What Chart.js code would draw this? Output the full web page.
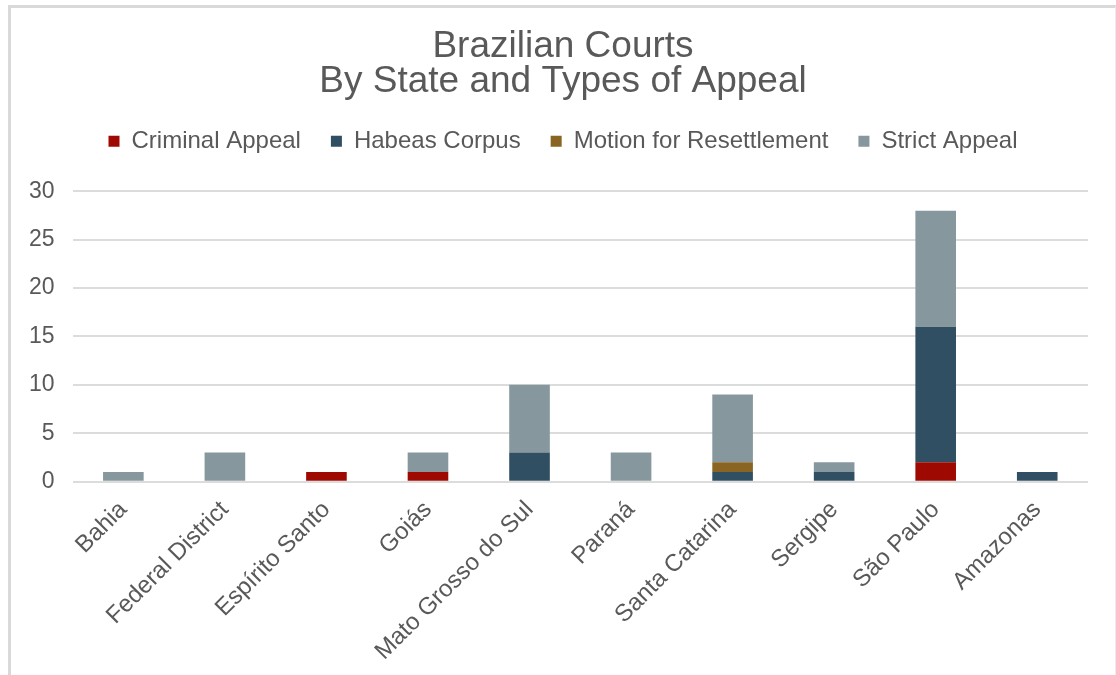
<!DOCTYPE html>
<html>
<head>
<meta charset="utf-8">
<script src="https://cdn.jsdelivr.net/npm/chart.js@4"></script>
<style>
  html, body { margin: 0; padding: 0; background: #fff; overflow: hidden; }
  #frame {
    position: absolute; left: 8px; top: 5px; width: 1104px; height: 700px;
    border-left: 3px solid #d9d9d9; border-top: 3px solid #d9d9d9; border-right: 1px solid #ececec;
  }
  #wrap { position: absolute; left: 0; top: 0; width: 1104px; height: 667px; }
</style>
</head>
<body>
<div id="frame"><div id="wrap"><canvas id="chart"></canvas></div></div>
<script>
const states = ['Bahia', 'Federal District', 'Espírito Santo', 'Goiás', 'Mato Grosso do Sul', 'Paraná', 'Santa Catarina', 'Sergipe', 'São Paulo', 'Amazonas'];
const criminalAppeal = [0, 0, 1, 1, 0, 0, 0, 0, 2, 0];
const habeasCorpus = [0, 0, 0, 0, 3, 0, 1, 1, 14, 1];
const motionForResettlement = [0, 0, 0, 0, 0, 0, 1, 0, 0, 0];
const strictAppeal = [1, 3, 0, 2, 7, 3, 7, 1, 12, 0];
const yTicks = [0, 5, 10, 15, 20, 25, 30];

const textColor = '#595959';
const fontFamily = "'Liberation Sans', Arial, Helvetica, sans-serif";

function series(label, data, color) {
    return {
        label: label,
        data: data,
        backgroundColor: color,
        borderWidth: 0,
        barPercentage: 0.4,
        categoryPercentage: 1
    };
}

// extra room under the legend, and title/legend centred on the whole canvas
const headerLayout = {
    id: 'headerLayout',
    beforeInit(chart) {
        const fit = chart.legend.fit;
        chart.legend.fit = function () {
            fit.bind(chart.legend)();
            this.height += 28;
        };
    },
    afterLayout(chart) {
        const shift = 13.5;
        [chart.titleBlock, chart.legend].forEach(box => {
            box.left += shift;
            box.right += shift;
        });
    }
};

new Chart(document.getElementById('chart'), {
    type: 'bar',
    data: {
        labels: states,
        datasets: [
            series('Criminal Appeal', criminalAppeal, '#9e0a02'),
            series('Habeas Corpus', habeasCorpus, '#304f63'),
            series('Motion for Resettlement', motionForResettlement, '#8a6422'),
            series('Strict Appeal', strictAppeal, '#86989e')
        ]
    },
    options: {
        responsive: true,
        maintainAspectRatio: false,
        animation: false,
        layout: { padding: { top: 0, right: 27, bottom: 3, left: 0 } },
        plugins: {
            title: {
                display: true,
                text: ['Brazilian Courts', 'By State and Types of Appeal'],
                color: textColor,
                font: { family: fontFamily, size: 37, weight: 'normal', lineHeight: 0.95 },
                padding: { top: 21, bottom: 0 }
            },
            legend: {
                labels: {
                    color: textColor,
                    font: { family: fontFamily, size: 24 },
                    boxWidth: 11,
                    boxHeight: 11,
                    padding: 30
                }
            },
            tooltip: { enabled: false }
        },
        scales: {
            x: {
                stacked: true,
                grid: { display: false },
                border: { display: false },
                ticks: {
                    color: textColor,
                    font: { family: fontFamily, size: 24 },
                    maxRotation: 45,
                    minRotation: 45,
                    autoSkip: false,
                    padding: 6
                }
            },
            y: {
                stacked: true,
                min: 0,
                max: 30,
                afterBuildTicks: axis => { axis.ticks = yTicks.map(v => ({ value: v })); },
                grid: { color: '#dcdcdc', lineWidth: 2, drawTicks: false },
                border: { display: false },
                ticks: {
                    color: textColor,
                    font: { family: fontFamily, size: 23 },
                    padding: 18
                }
            }
        }
    },
    plugins: [headerLayout]
});
</script>
</body>
</html>
